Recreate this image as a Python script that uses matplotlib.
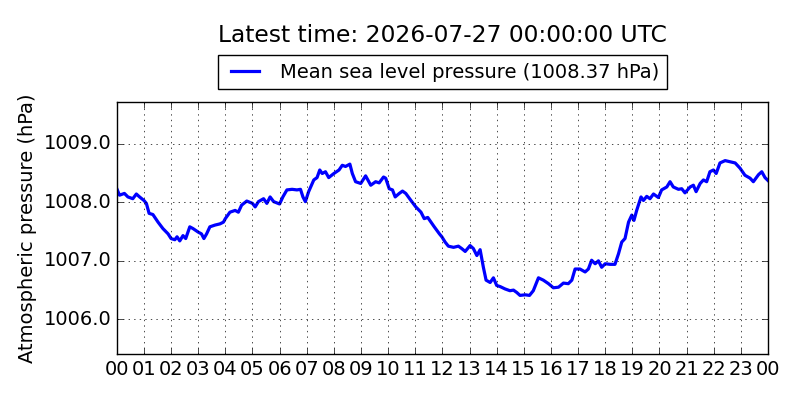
import matplotlib
matplotlib.use("Agg")
import matplotlib.pyplot as plt
from matplotlib.ticker import FixedLocator, FuncFormatter

# Hours since 2026-07-26 00:00 UTC and mean sea level pressure (hPa)
hours = [
    0.00, 0.10, 0.28, 0.41, 0.59, 0.72, 0.84, 1.00, 1.09, 1.19, 1.33, 1.52,
    1.70, 1.89, 2.00, 2.14, 2.22, 2.32, 2.44, 2.54, 2.69, 2.81, 3.00, 3.12,
    3.21, 3.31, 3.43, 3.62, 3.80, 3.93, 4.00, 4.17, 4.36, 4.48, 4.60, 4.79,
    5.00, 5.10, 5.22, 5.41, 5.53, 5.65, 5.78, 6.00, 6.12, 6.27, 6.46, 6.64,
    6.77, 6.86, 6.95, 7.07, 7.26, 7.38, 7.48, 7.57, 7.69, 7.81, 8.00, 8.19,
    8.31, 8.43, 8.59, 8.68, 8.80, 8.99, 9.17, 9.36, 9.54, 9.67, 9.83, 9.91,
    10.04, 10.16, 10.26, 10.41, 10.53, 10.65, 10.84, 11.02, 11.21, 11.33,
    11.46, 11.58, 11.70, 11.89, 11.98, 12.10, 12.22, 12.41, 12.59, 12.71,
    12.84, 13.02, 13.14, 13.27, 13.39, 13.51, 13.61, 13.76, 13.88, 14.00,
    14.13, 14.31, 14.49, 14.62, 14.74, 14.86, 15.05, 15.21, 15.35, 15.54,
    15.72, 15.91, 16.09, 16.28, 16.46, 16.64, 16.77, 16.89, 17.07, 17.26,
    17.38, 17.50, 17.63, 17.75, 17.87, 18.00, 18.18, 18.36, 18.49, 18.61,
    18.73, 18.86, 18.98, 19.06, 19.16, 19.32, 19.41, 19.53, 19.65, 19.78,
    19.96, 20.08, 20.27, 20.39, 20.51, 20.70, 20.82, 20.94, 21.13, 21.25,
    21.35, 21.50, 21.62, 21.74, 21.86, 21.99, 22.09, 22.23, 22.42, 22.60,
    22.79, 22.97, 23.15, 23.34, 23.46, 23.65, 23.77, 23.89, 24.00,
]
pressure = [
    1008.23, 1008.12, 1008.15, 1008.09, 1008.06, 1008.14, 1008.09, 1008.03,
    1007.98, 1007.81, 1007.79, 1007.66, 1007.55, 1007.46, 1007.38, 1007.36,
    1007.41, 1007.34, 1007.43, 1007.38, 1007.58, 1007.55, 1007.49, 1007.46,
    1007.38, 1007.46, 1007.58, 1007.61, 1007.63, 1007.66, 1007.72, 1007.83,
    1007.86, 1007.83, 1007.95, 1008.02, 1007.98, 1007.92, 1008.01, 1008.06,
    1007.98, 1008.09, 1008.01, 1007.97, 1008.09, 1008.21, 1008.22, 1008.21,
    1008.22, 1008.09, 1008.01, 1008.18, 1008.38, 1008.42, 1008.55, 1008.49,
    1008.52, 1008.42, 1008.49, 1008.55, 1008.63, 1008.61, 1008.65, 1008.49,
    1008.35, 1008.32, 1008.45, 1008.29, 1008.35, 1008.33, 1008.43, 1008.41,
    1008.23, 1008.21, 1008.09, 1008.15, 1008.19, 1008.15, 1008.03, 1007.92,
    1007.83, 1007.72, 1007.74, 1007.66, 1007.58, 1007.46, 1007.41, 1007.32,
    1007.25, 1007.23, 1007.25, 1007.21, 1007.16, 1007.26, 1007.21, 1007.09,
    1007.19, 1006.89, 1006.67, 1006.63, 1006.71, 1006.58, 1006.56, 1006.52,
    1006.49, 1006.50, 1006.46, 1006.41, 1006.42, 1006.41, 1006.49, 1006.71,
    1006.67, 1006.61, 1006.54, 1006.55, 1006.62, 1006.61, 1006.67, 1006.86,
    1006.86, 1006.81, 1006.86, 1007.01, 1006.95, 1007.00, 1006.89, 1006.95,
    1006.94, 1006.94, 1007.12, 1007.32, 1007.38, 1007.66, 1007.78, 1007.69,
    1007.86, 1008.09, 1008.03, 1008.10, 1008.06, 1008.14, 1008.08, 1008.21,
    1008.26, 1008.35, 1008.26, 1008.22, 1008.23, 1008.16, 1008.26, 1008.29,
    1008.18, 1008.32, 1008.38, 1008.35, 1008.52, 1008.55, 1008.49, 1008.67,
    1008.71, 1008.69, 1008.67, 1008.58, 1008.46, 1008.41, 1008.35, 1008.47,
    1008.52, 1008.42, 1008.37,
]
latest_time = "2026-07-27 00:00:00 UTC"
hour_ticks = list(range(0, 25))
pressure_ticks = [1006.0, 1007.0, 1008.0, 1009.0]

plt.style.use("classic")
plt.rcParams["font.family"] = "DejaVu Sans"

fig = plt.figure(figsize=(8, 4), dpi=100, facecolor="white")
ax = fig.add_axes([0.146, 0.115, 0.814, 0.63])

ax.plot(hours, pressure, color="blue", linewidth=2.3,
        label="Mean sea level pressure (%.2f hPa)" % pressure[-1])

ax.set_xlim(0, 24)
ax.set_ylim(min(pressure) - 1, max(pressure) + 1)
ax.xaxis.set_major_locator(FixedLocator(hour_ticks))
ax.xaxis.set_major_formatter(FuncFormatter(lambda x, pos: "%02d" % (int(round(x)) % 24)))
ax.yaxis.set_major_locator(FixedLocator(pressure_ticks))
ax.yaxis.set_major_formatter(FuncFormatter(lambda y, pos: "%.1f" % y))
ax.tick_params(labelsize=14)
ax.grid(True)

ax.set_ylabel("Atmospheric pressure (hPa)", fontsize=14)
fig.text(0.553, 0.912, "Latest time: " + latest_time, ha="center", va="center", fontsize=16.8)
ax.legend(loc="lower center", bbox_to_anchor=(0.5, 1.05), fontsize=14,
          fancybox=False, borderaxespad=0, handlelength=2.0)

fig.savefig("out.png", dpi=100, facecolor="white")
